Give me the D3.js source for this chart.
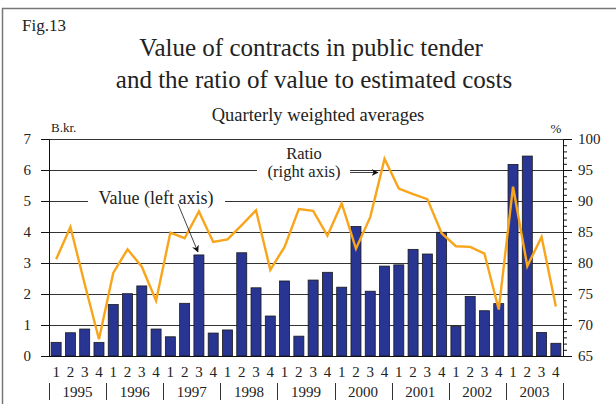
<!DOCTYPE html>
<html>
<head>
<meta charset="utf-8">
<script src="https://cdn.jsdelivr.net/npm/d3@7"></script>
<style>
 body { margin: 0; background: white; }
 svg text { font-family: "Liberation Serif", "DejaVu Serif", "Times New Roman", serif; fill: #222; }
</style>
</head>
<body>
<script>
 // Fig.13 - value of contracts in public tender, quarterly

 var years = ["1995", "1996", "1997", "1998", "1999", "2000", "2001", "2002", "2003"];
 var quarters = ["1", "2", "3", "4"];

 // value, billion kr (left axis)
 var values = [0.44, 0.75, 0.87, 0.44, 1.66, 2.01, 2.26, 0.87, 0.62, 1.70, 3.26, 0.74,
 	0.84, 3.33, 2.20, 1.29, 2.42, 0.64, 2.45, 2.70, 2.22, 4.18, 2.09, 2.90,
 	2.94, 3.44, 3.29, 3.99, 0.96, 1.92, 1.46, 1.69, 6.18, 6.45, 0.76, 0.41];

 // ratio of value to estimated costs, % (right axis)
 var ratio = [80.6, 85.8, 76.6, 67.7, 78.4, 82.2, 79.4, 73.9, 84.9, 84.0, 88.3, 83.4,
 	83.8, 86.1, 88.5, 78.9, 82.6, 88.7, 88.4, 84.4, 89.6, 82.3, 87.4, 96.8,
 	92.0, 91.1, 90.3, 84.8, 82.7, 82.6, 81.5, 72.5, 92.3, 79.5, 84.2, 73.0];

 var leftTicks = [0, 1, 2, 3, 4, 5, 6, 7];
 var rightTicks = [65, 70, 75, 80, 85, 90, 95, 100];

 var width = 616, height = 404;
 var plot = { left: 49, right: 563, top: 139, bottom: 356 };
 var serif = "'Liberation Serif', 'DejaVu Serif', serif";

 var svg = d3.select("body").append("svg")
 	.attr("width", width)
 	.attr("height", height)
 	.attr("font-family", serif);

 // frame (only top and left edge show)
 svg.append("path")
 	.attr("d", "M2.5," + height + "V8.5H" + width)
 	.attr("fill", "none")
 	.attr("stroke", "#777")
 	.attr("stroke-width", 1.5);

 var idx = d3.range(values.length);

 var x = d3.scaleBand()
 	.domain(idx)
 	.range([plot.left, plot.right])
 	.paddingInner(0.3)
 	.paddingOuter(0.15);

 var y = d3.scaleLinear().domain([0, 7]).range([plot.bottom, plot.top]);
 var y2 = d3.scaleLinear().domain([65, 100]).range([plot.bottom, plot.top]);

 // gridlines
 svg.append("g")
 	.selectAll("line")
 	.data(leftTicks.slice(1))
 	.enter().append("line")
 	.attr("x1", plot.left)
 	.attr("x2", plot.right)
 	.attr("y1", function (d) { return Math.round(y(d)) + 0.5; })
 	.attr("y2", function (d) { return Math.round(y(d)) + 0.5; })
 	.attr("stroke", "#333")
 	.attr("stroke-width", 1);

 // white patches behind the annotations
 svg.append("rect").attr("x", 88).attr("y", 186).attr("width", 137).attr("height", 24).attr("fill", "white");
 svg.append("rect").attr("x", 257).attr("y", 145).attr("width", 93).attr("height", 38).attr("fill", "white");

 // bars
 svg.append("g")
 	.selectAll("rect")
 	.data(idx)
 	.enter().append("rect")
 	.attr("x", function (i) { return x(i); })
 	.attr("y", function (i) { return y(values[i]); })
 	.attr("width", x.bandwidth())
 	.attr("height", function (i) { return y(0) - y(values[i]); })
 	.attr("fill", "#283593")
 	.attr("stroke", "#1a1a1a")
 	.attr("stroke-width", 0.8);

 // ratio line
 var line = d3.line()
 	.x(function (i) { return x(i) + x.bandwidth() / 2; })
 	.y(function (i) { return y2(ratio[i]); });

 svg.append("path")
 	.datum(idx)
 	.attr("d", line)
 	.attr("fill", "none")
 	.attr("stroke", "#f9a51b")
 	.attr("stroke-width", 2.4)
 	.attr("stroke-linejoin", "miter");

 // left axis
 var axL = svg.append("g")
 	.attr("transform", "translate(" + plot.left + ",0)")
 	.call(d3.axisLeft(y).tickValues(leftTicks).tickFormat(d3.format("d")).tickSize(8).tickPadding(10))
 	.attr("font-family", serif)
 	.attr("font-size", 15);
 axL.select(".domain").attr("stroke", "#111");
 axL.selectAll("line").attr("stroke", "#111");
 axL.selectAll("text").attr("fill", "#222");

 // right axis, with 1% minor ticks
 svg.append("g")
 	.attr("transform", "translate(" + plot.right + ",0)")
 	.call(d3.axisRight(y2).tickValues(d3.range(65, 101)).tickSize(4).tickFormat(""))
 	.call(function (g) { g.select(".domain").remove(); })
 	.selectAll("line").attr("stroke", "#111");

 var axR = svg.append("g")
 	.attr("transform", "translate(" + plot.right + ",0)")
 	.call(d3.axisRight(y2).tickValues(rightTicks).tickSize(9).tickPadding(6))
 	.attr("font-family", serif)
 	.attr("font-size", 15);
 axR.select(".domain").attr("stroke", "#111");
 axR.selectAll("line").attr("stroke", "#111");
 axR.selectAll("text").attr("fill", "#222");

 // bottom axis line
 svg.append("line")
 	.attr("x1", plot.left - 8).attr("x2", plot.right)
 	.attr("y1", plot.bottom + 0.5).attr("y2", plot.bottom + 0.5)
 	.attr("stroke", "#111");

 // quarter labels
 svg.append("g")
 	.selectAll("text")
 	.data(idx)
 	.enter().append("text")
 	.attr("x", function (i) { return x(i) + x.bandwidth() / 2; })
 	.attr("y", 377)
 	.attr("text-anchor", "middle")
 	.style("font-size", "15px")
 	.text(function (i) { return quarters[i % 4]; });

 // year labels and separators
 var step = x.step();
 svg.append("g")
 	.selectAll("text")
 	.data(years)
 	.enter().append("text")
 	.attr("x", function (d, k) { return plot.left + (k * 4 + 2) * step; })
 	.attr("y", 397)
 	.attr("text-anchor", "middle")
 	.style("font-size", "15px")
 	.text(function (d) { return d; });

 svg.append("g")
 	.selectAll("line")
 	.data(d3.range(years.length + 1))
 	.enter().append("line")
 	.attr("x1", function (k) { return Math.round(plot.left + k * 4 * step) + 0.5; })
 	.attr("x2", function (k) { return Math.round(plot.left + k * 4 * step) + 0.5; })
 	.attr("y1", 383)
 	.attr("y2", 400)
 	.attr("stroke", "#333");

 // titles
 svg.append("text").attr("x", 22).attr("y", 31).style("font-size", "17px").text("Fig.13");
 svg.append("text").attr("x", 311).attr("y", 56).attr("text-anchor", "middle")
 	.style("font-size", "25px").text("Value of contracts in public tender");
 svg.append("text").attr("x", 314).attr("y", 88).attr("text-anchor", "middle")
 	.style("font-size", "25px").text("and the ratio of value to estimated costs");
 svg.append("text").attr("x", 318).attr("y", 121).attr("text-anchor", "middle")
 	.style("font-size", "18.5px").text("Quarterly weighted averages");
 svg.append("text").attr("x", 51).attr("y", 132).style("font-size", "13px").text("B.kr.");
 svg.append("text").attr("x", 556).attr("y", 133).attr("text-anchor", "middle").style("font-size", "13px").text("%");

 // annotations
 svg.append("defs").append("marker")
 	.attr("id", "arrow")
 	.attr("viewBox", "0 0 10 10")
 	.attr("refX", 9).attr("refY", 5)
 	.attr("markerWidth", 9).attr("markerHeight", 9)
 	.attr("orient", "auto")
 	.append("path")
 	.attr("d", "M0,0L10,5L0,10L3,5Z")
 	.attr("fill", "#111");

 svg.append("text").attr("x", 156).attr("y", 204).attr("text-anchor", "middle")
 	.style("font-size", "18px").text("Value (left axis)");
 svg.append("line")
 	.attr("x1", 178).attr("y1", 204)
 	.attr("x2", x(10) + x.bandwidth() / 2 - 1).attr("y2", y(values[10]) - 3)
 	.attr("stroke", "#111").attr("stroke-width", 0.8)
 	.attr("marker-end", "url(#arrow)");

 svg.append("text").attr("x", 304).attr("y", 159).attr("text-anchor", "middle")
 	.style("font-size", "16.5px").text("Ratio");
 svg.append("text").attr("x", 304).attr("y", 177).attr("text-anchor", "middle")
 	.style("font-size", "16.5px").text("(right axis)");
 svg.append("line")
 	.attr("x1", 350).attr("y1", 172.5)
 	.attr("x2", 378).attr("y2", 172.5)
 	.attr("stroke", "#111").attr("stroke-width", 0.8)
 	.attr("marker-end", "url(#arrow)");
</script>
</body>
</html>
